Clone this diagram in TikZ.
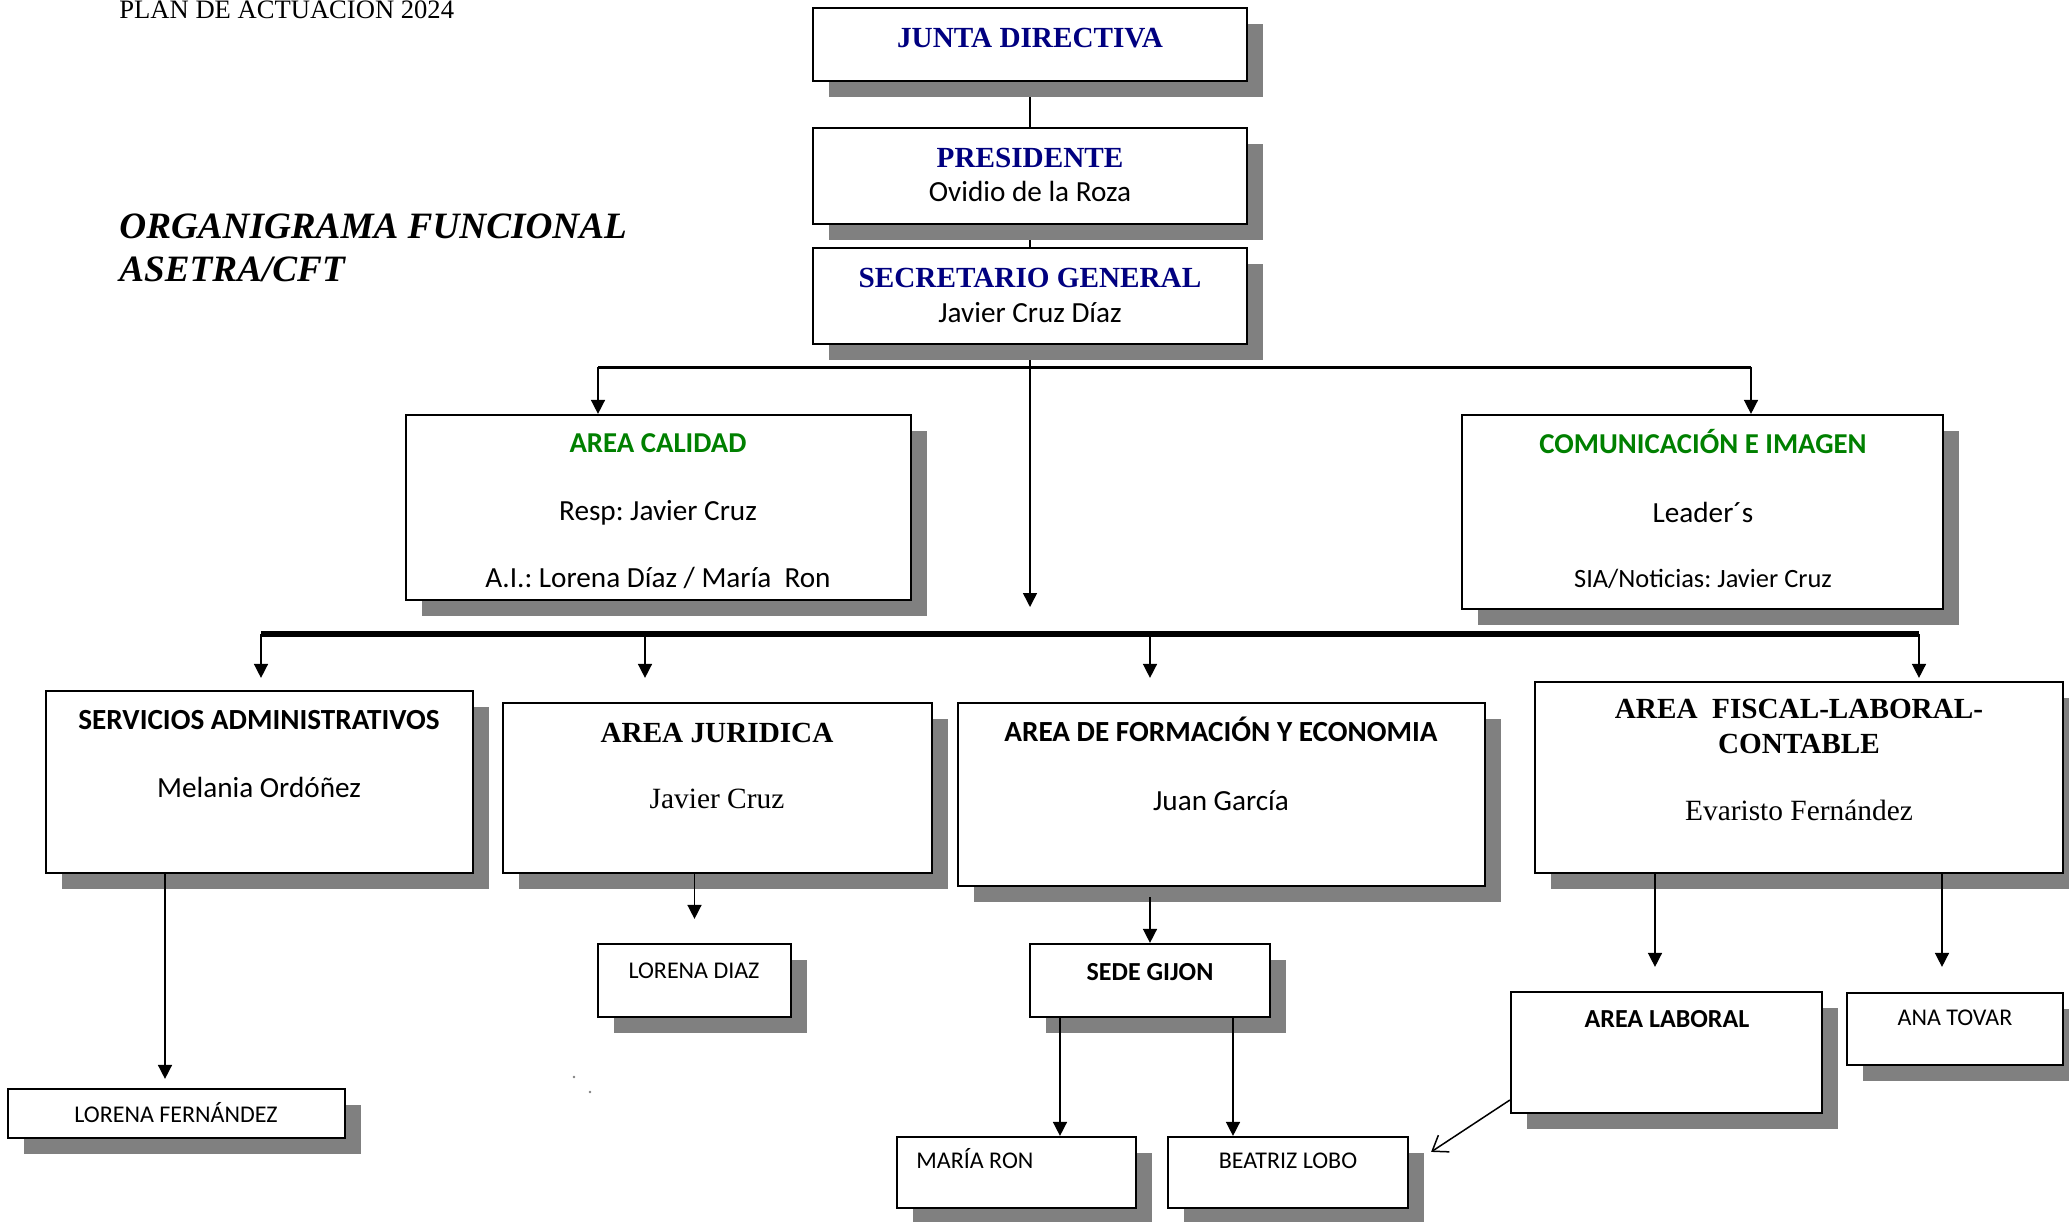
\documentclass[tikz,border=0pt]{standalone}
\usepackage{fontspec}
\setmainfont{Liberation Serif}
\newfontfamily\calib{Carlito}
\usetikzlibrary{arrows.meta,shadows}
\definecolor{navyblue}{RGB}{0,0,128}
\definecolor{areagreen}{RGB}{0,128,0}
\definecolor{shadowgray}{RGB}{128,128,128}
\pgfdeclarelayer{bg}
\pgfsetlayers{bg,main}
\frenchspacing
\tikzset{
  box/.style={draw, line width=1.1pt, fill=white, inner sep=0pt,
    drop shadow={shadow xshift=8pt, shadow yshift=-8pt, fill=shadowgray, opacity=1}},
  hd/.style={font=\fontsize{14.6}{17}\selectfont\bfseries, text=navyblue, anchor=base, inner sep=0pt},
  grn/.style={font=\calib\bfseries\fontsize{14.4}{17}\selectfont, text=areagreen, anchor=base, inner sep=0pt},
  sub/.style={font=\calib\fontsize{14.6}{17}\selectfont, anchor=base, inner sep=0pt},
  areaS/.style={font=\calib\bfseries\fontsize{14.6}{17}\selectfont, anchor=base, inner sep=0pt},
  areaR/.style={font=\bfseries\fontsize{14.6}{17}\selectfont, anchor=base, inner sep=0pt},
  nameR/.style={font=\fontsize{14.7}{17}\selectfont, anchor=base, inner sep=0pt},
  small/.style={font=\calib\fontsize{12}{14}\selectfont, anchor=base, inner sep=0pt},
  smallB/.style={font=\calib\bfseries\fontsize{13}{15}\selectfont, anchor=base, inner sep=0pt},
  arr/.style={-{Triangle[length=7pt,width=7pt]}, line width=0.75pt}
}
\begin{document}
\begin{tikzpicture}[x=0.5pt,y=-0.5pt]
\useasboundingbox (0,0) rectangle (2069,1222);

% titles
\node [font=\fontsize{13.3}{15}\selectfont, anchor=base west, inner sep=0pt] (plan) at (119,18) {PLAN DE ACTUACION 2024};
\node [font=\fontsize{18.6}{21}\selectfont\bfseries\itshape, anchor=base west, inner sep=0pt] (org1) at (119,238) {ORGANIGRAMA FUNCIONAL};
\node [font=\fontsize{18.6}{21}\selectfont\bfseries\itshape, anchor=base west, inner sep=0pt] (org2) at (119,281) {ASETRA/CFT};

% top chain
\node [box, minimum width=217pt, minimum height=36.5pt] (jd) at (1030,44.5) {};
\node [hd] (jdT) at (1030,47) {JUNTA DIRECTIVA};

\node [box, minimum width=217pt, minimum height=48pt] (pres) at (1030,176) {};
\node [hd] (presT) at (1030,167) {PRESIDENTE};
\node [sub] (presN) at (1030,201) {Ovidio de la Roza};

\node [box, minimum width=217pt, minimum height=48pt] (sec) at (1030,296) {};
\node [hd] (secT) at (1030,287) {SECRETARIO GENERAL};
\node [sub] (secN) at (1030,322) {Javier Cruz Díaz};

% staff areas
\node [box, minimum width=252.5pt, minimum height=92.5pt] (cal) at (658.5,507.5) {};
\node [grn] (calT) at (658,452) {AREA CALIDAD};
\node [sub] (calN) at (658,520) {Resp: Javier Cruz};
\node [sub] (calA) at (658,587) {A.I.: Lorena Díaz / María\ \ Ron};

\node [box, minimum width=240.5pt, minimum height=97pt] (com) at (1702.5,512) {};
\node [grn] (comT) at (1703,453) {COMUNICACIÓN E IMAGEN};
\node [sub] (comN) at (1703,522) {Leader´s};
\node [sub, font=\calib\fontsize{13.2}{15}\selectfont] (comS) at (1703,587) {SIA/Noticias: Javier Cruz};

% line areas
\node [box, minimum width=213.5pt, minimum height=91pt] (adm) at (259.5,782) {};
\node [areaS] (admT) at (259,729) {SERVICIOS ADMINISTRATIVOS};
\node [sub] (admN) at (259,797) {Melania Ordóñez};

\node [box, minimum width=214.5pt, minimum height=85pt] (jur) at (717.5,788) {};
\node [areaR] (jurT) at (717,742) {AREA JURIDICA};
\node [nameR] (jurN) at (717,808) {Javier Cruz};

\node [box, minimum width=263.5pt, minimum height=91.5pt] (form) at (1221.5,794.5) {};
\node [areaS] (formT) at (1221,741) {AREA DE FORMACIÓN Y ECONOMIA};
\node [sub] (formN) at (1221,810) {Juan García};

\node [box, minimum width=264pt, minimum height=95.5pt] (fis) at (1799,777.5) {};
\node [areaR] (fisT) at (1799,718) {AREA\ \ FISCAL-LABORAL-};
\node [areaR] (fisT2) at (1799,753) {CONTABLE};
\node [nameR] (fisN) at (1799,820) {Evaristo Fernández};

% staff
\node [box, minimum width=96.5pt, minimum height=36.5pt] (ldiaz) at (694.5,980.5) {};
\node [small] (ldiazT) at (694,978) {LORENA DIAZ};

\node [box, minimum width=168.5pt, minimum height=24.5pt] (lfer) at (176.5,1113.5) {};
\node [small] (lferT) at (176,1122) {LORENA FERNÁNDEZ};

\node [box, minimum width=120pt, minimum height=36.5pt] (gijon) at (1150,980.5) {};
\node [smallB] (gijonT) at (1150,980) {SEDE GIJON};

\node [box, minimum width=119.5pt, minimum height=35.5pt] (mron) at (1016.5,1172.5) {};
\node [small, anchor=base west] (mronT) at (916,1168) {MARÍA RON};

\node [box, minimum width=120pt, minimum height=35.5pt] (blobo) at (1288,1172.5) {};
\node [small] (bloboT) at (1288,1168) {BEATRIZ LOBO};

\node [box, minimum width=155.5pt, minimum height=60.5pt] (lab) at (1666.5,1052.5) {};
\node [smallB] (labT) at (1667,1027) {AREA LABORAL};

\node [box, minimum width=108pt, minimum height=36pt] (ana) at (1955,1029) {};
\node [small] (anaT) at (1955,1025) {ANA TOVAR};

\fill [gray] (574,1077) circle (0.7pt);
\fill [gray] (590,1092) circle (0.7pt);

% connectors
\coordinate (calIn) at (598,367);
\coordinate (comIn) at (1751,367);
\coordinate (secEnd) at (1030,607);
\coordinate (busL) at (261,634);
\coordinate (busR) at (1919,634);
\coordinate (bJur) at (645,634);
\coordinate (bForm) at (1150,634);
\coordinate (admX) at (165,873);
\coordinate (formX) at (1150,897);
\coordinate (gjL) at (1060,1017);
\coordinate (gjR) at (1233,1017);
\coordinate (fisL) at (1655,873);
\coordinate (fisR) at (1942,873);

\begin{pgfonlayer}{bg}
\draw [line width=0.75pt] (jd.south) -- (pres.north);
\draw [line width=0.75pt] (pres.south) -- (sec.north);
\draw [line width=1.5pt] (calIn) -- (comIn);
\draw [arr] (calIn) -- (calIn |- cal.north);
\draw [arr] (comIn) -- (comIn |- com.north);
\draw [arr] (sec.south) -- (secEnd);
\end{pgfonlayer}

\draw [line width=3pt] (busL) -- (busR);
\draw [arr, shorten >=6pt] (busL) -- (busL |- adm.north);
\draw [arr, shorten >=12pt] (bJur) -- (bJur |- jur.north);
\draw [arr, shorten >=12pt] (bForm) -- (bForm |- form.north);
\draw [arr, shorten >=1.5pt] (busR) -- (busR |- fis.north);

\draw [arr, shorten >=4.5pt] (admX) -- (admX |- lfer.north);
\draw [arr, shorten >=12pt] (ldiaz.north |- jur.south) -- (ldiaz.north);
\draw [arr] (formX) -- (gijon.north);
\draw [arr] (gjL) -- (gjL |- mron.north);
\draw [arr] (gjR) -- (gjR |- blobo.north);
\draw [arr, shorten >=12pt] (fisL) -- (fisL |- lab.north);
\draw [arr, shorten >=12.5pt] (fisR) -- (fisR |- ana.north);
\draw [-{Straight Barb[length=7pt,width=10pt]}, line width=0.75pt] ([yshift=-23.75pt]lab.west) -- ([xshift=11pt,yshift=-8pt]blobo.north east);
\end{tikzpicture}
\end{document}
